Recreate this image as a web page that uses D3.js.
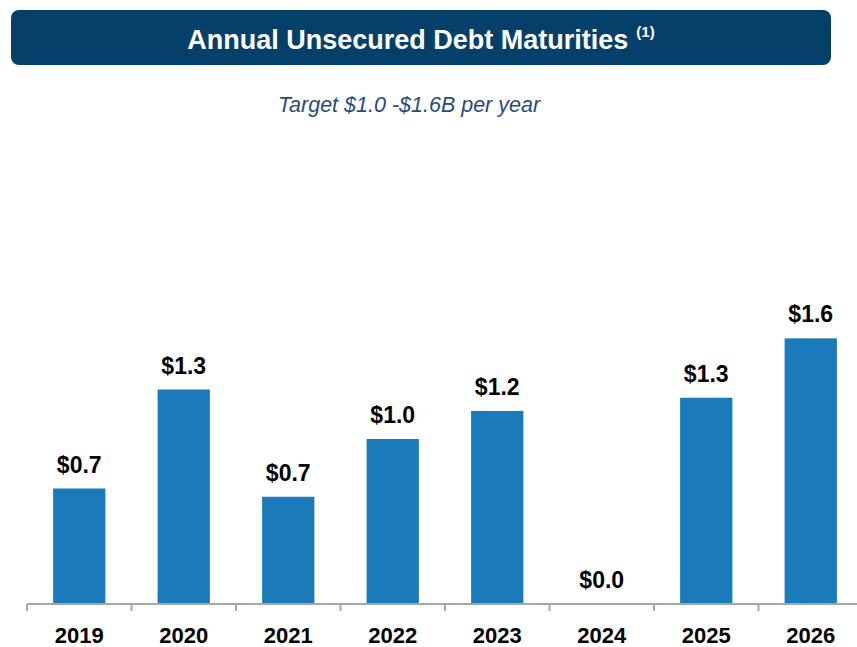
<!DOCTYPE html>
<html>
<head>
<meta charset="utf-8">
<script src="https://cdn.jsdelivr.net/npm/d3@7"></script>
<style>
  body { margin: 0; background: #fff; }
  svg { display: block; font-family: "Liberation Sans", Arial, sans-serif; }
</style>
</head>
<body>
<svg id="chart" width="857" height="647"></svg>
<script>
// data
const years = ["2019", "2020", "2021", "2022", "2023", "2024", "2025", "2026"];
const maturities = [0.70, 1.30, 0.65, 1.00, 1.17, 0.0, 1.25, 1.61];
const titleText = "Annual Unsecured Debt Maturities";
const subtitleText = "Target $1.0 -$1.6B per year";

const svg = d3.select("#chart");
const baseY = 604;

// title banner
svg.append("rect")
  .attr("x", 11).attr("y", 10)
  .attr("width", 820).attr("height", 55)
  .attr("rx", 8).attr("ry", 8)
  .attr("fill", "#05406a");

const title = svg.append("text")
  .attr("x", 421).attr("y", 49)
  .attr("text-anchor", "middle")
  .attr("fill", "#fff")
  .attr("font-weight", "bold")
  .attr("font-size", 27);
title.append("tspan").text(titleText);
title.append("tspan")
  .attr("font-size", 15)
  .attr("dx", 8)
  .attr("dy", -12)
  .text("(1)");

svg.append("text")
  .attr("x", 409).attr("y", 112)
  .attr("text-anchor", "middle")
  .attr("fill", "#264b7c")
  .attr("font-style", "italic")
  .attr("font-size", 21.5)
  .text(subtitleText);

// scales
const x = d3.scaleBand()
  .domain(years)
  .range([27, 863])
  .paddingInner(0.5)
  .paddingOuter(0.25);

const y = d3.scaleLinear()
  .domain([0, 2])
  .range([baseY, baseY - 330]);

// bars
svg.append("g")
  .selectAll("rect")
  .data(maturities)
  .enter()
  .append("rect")
  .attr("x", (d, i) => x(years[i]))
  .attr("y", d => y(d))
  .attr("width", x.bandwidth())
  .attr("height", d => baseY - y(d))
  .attr("fill", "#1b7aba");

// value labels
const fmt = d3.format("$.1f");
svg.append("g")
  .selectAll("text")
  .data(maturities)
  .enter()
  .append("text")
  .attr("x", (d, i) => x(years[i]) + x.bandwidth() / 2)
  .attr("y", d => y(d) - 16)
  .attr("text-anchor", "middle")
  .attr("font-weight", "bold")
  .attr("font-size", 23)
  .attr("fill", "#000")
  .text(d => fmt(d));

// x axis with ticks between categories
const axis = svg.append("g").attr("class", "xAxis");
axis.append("line")
  .attr("x1", 27).attr("x2", 857)
  .attr("y1", baseY).attr("y2", baseY)
  .attr("stroke", "#a6a6a6").attr("stroke-width", 2);

const step = x.step();
axis.selectAll("line.tick")
  .data(d3.range(years.length + 1))
  .enter()
  .append("line")
  .attr("class", "tick")
  .attr("x1", i => 27 + i * step)
  .attr("x2", i => 27 + i * step)
  .attr("y1", baseY).attr("y2", baseY + 7)
  .attr("stroke", "#a6a6a6").attr("stroke-width", 2);

axis.selectAll("text")
  .data(years)
  .enter()
  .append("text")
  .attr("x", d => x(d) + x.bandwidth() / 2)
  .attr("y", 643)
  .attr("text-anchor", "middle")
  .attr("font-weight", "bold")
  .attr("font-size", 22)
  .attr("fill", "#000")
  .text(d => d);
</script>
</body>
</html>
